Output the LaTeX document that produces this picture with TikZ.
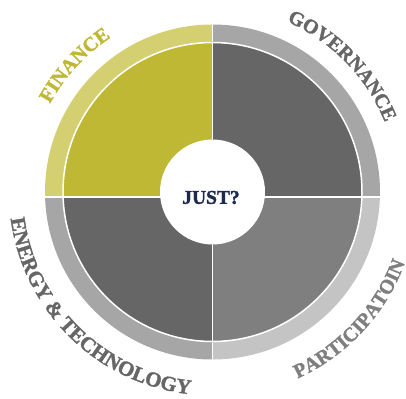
\documentclass[tikz,border=0pt]{standalone}
\usepackage{fontspec}
\setmainfont{Liberation Serif}
\newfontfamily\heavyf{Liberation Serif}[BoldFeatures={FakeBold=1.6}]
\usetikzlibrary{decorations.text}
\definecolor{finin}{HTML}{BFB834}
\definecolor{finring}{HTML}{D4CF70}
\definecolor{govin}{HTML}{666666}
\definecolor{govring}{HTML}{A6A6A6}
\definecolor{parin}{HTML}{7F7F7F}
\definecolor{parring}{HTML}{C4C4C4}
\definecolor{enein}{HTML}{666666}
\definecolor{enering}{HTML}{A6A6A6}
\definecolor{navy}{HTML}{1B2A4E}
\newcommand\lblf{\fontsize{20}{20}\selectfont\heavyf\bfseries}
\newcommand\lblbig{\fontsize{21}{21}\selectfont\heavyf\bfseries}
\tikzset{
  sep/.style={white, line width=1.5pt},
  arclabel/.style={decorate, decoration={text along path, text align=center, text={#1}}}
}
\begin{document}
\begin{tikzpicture}[x=1pt,y=1pt]
\useasboundingbox (-212.5,-206) rectangle (193.5,192);
\def\Ro{167.5}
\def\Ri{149}
\def\hy{-5}
% Finance (top left)
\begin{scope}
\clip (-180,\hy) rectangle (0,180);
\fill[finring] (0,0) circle[radius=\Ro];
\fill[finin] (0,0) circle[radius=\Ri];
\end{scope}
% Governance (top right)
\begin{scope}
\clip (0,\hy) rectangle (180,180);
\fill[govring] (0,0) circle[radius=\Ro];
\fill[govin] (0,0) circle[radius=\Ri];
\end{scope}
% Participation (bottom right)
\begin{scope}
\clip (0,\hy) rectangle (180,-180);
\fill[parring] (0,0) circle[radius=\Ro];
\fill[parin] (0,0) circle[radius=\Ri];
\end{scope}
% Energy (bottom left)
\begin{scope}
\clip (-180,\hy) rectangle (0,-180);
\fill[enering] (0,0) circle[radius=\Ro];
\fill[enein] (0,0) circle[radius=\Ri];
\end{scope}
\draw[white, line width=1.5pt] (0,0) circle[radius=149.5];
\coordinate (vt) at (0,170);
\coordinate (vb) at (0,-170);
\coordinate (hl) at (-170,\hy);
\coordinate (hr) at (170,\hy);
\draw[sep] (vt) -- (vb);
\draw[sep] (hl) -- (hr);
\node[circle, fill=white, minimum size=105pt, inner sep=0pt] (hub) at (0,0) {};
\node[font=\fontsize{19.5}{19.5}\selectfont\heavyf\bfseries, text=navy, inner sep=0pt] (just) at (-1.5,-5.5) {JUST?};
% curved labels
\path[arclabel={|\lblf\color{finin}|FINANCE}] (177.4:185) arc[start angle=177.4, end angle=97.4, radius=185];
\path[arclabel={|\lblf\color{govin}|GOVERNANCE}] (94.2:186) arc[start angle=94.2, end angle=-5.8, radius=186];
\path[arclabel={|\lblf\color{parin}|PARTICIPATOIN}] (-102.8:205) arc[start angle=-102.8, end angle=17.2, radius=205];
\path[arclabel={|\lblbig\color{enein}|ENERGY {\&} TECHNOLOGY}] (160.6:203.5) arc[start angle=160.6, end angle=290.6, radius=203.5];
\end{tikzpicture}
\end{document}
